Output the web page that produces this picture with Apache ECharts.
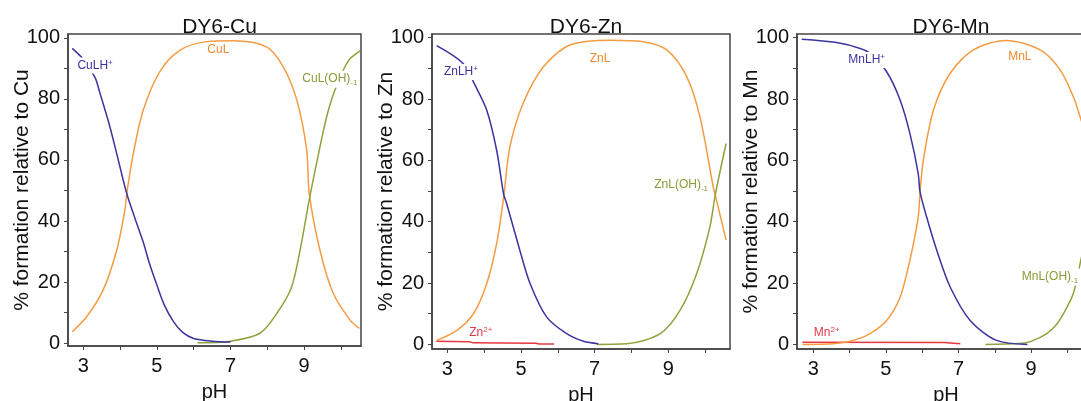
<!DOCTYPE html>
<html>
<head lang="en">
    <meta charset="UTF-8">
    <title>DY6 speciation</title>
    <style>
        html, body { margin: 0; padding: 0; background: #fff; }
    </style>
</head>
<body>
<div id="chart" style="width: 1081px;height: 401px;"></div>
<script src="https://cdn.jsdelivr.net/npm/echarts/dist/echarts.min.js"></script>
<script>
// ---- data (pH, % formation) ----
// DY6-Cu
var cuLH_pH   = [2.7, 3.0, 3.32, 3.45, 3.72, 3.95, 4.18, 4.4, 4.63, 4.8, 5.0, 5.2, 5.45, 5.7, 6.0, 6.5, 7.0];
var cuLH_pct  = [96.6, 93, 87, 82, 71, 60, 49, 41, 33, 26, 19, 12.5, 7, 3.5, 1.5, 0.6, 0.3];
var cuL_pH    = [2.7, 3.09, 3.54, 3.91, 4.13, 4.18, 4.36, 4.63, 5.08, 5.63, 6.35, 7.07, 7.98, 8.43, 8.8, 9.07, 9.14, 9.43, 9.79, 10.25, 10.5];
var cuL_pct   = [3.7, 8.6, 17.4, 30.5, 43.6, 49, 62.2, 76.4, 89, 96, 98.8, 99.1, 97.1, 90.6, 79.7, 63.3, 49, 30.5, 16.3, 7.5, 4.8];
var cuOH_pH   = [6.1, 7.0, 7.8, 8.26, 8.65, 8.9, 9.14, 9.34, 9.61, 9.84, 10.2, 10.52];
var cuOH_pct  = [0.1, 0.6, 3.2, 9.7, 18, 31, 47, 59, 74, 83, 92.5, 95.8];
// DY6-Zn
var znLH_pH   = [2.71, 3.43, 3.75, 4.07, 4.34, 4.53, 4.61, 4.97, 5.25, 5.7, 6.24, 6.7, 7.1];
var znLH_pct  = [97.4, 91.6, 84.6, 76.4, 63.3, 49, 46, 30.7, 19.8, 8.9, 3.5, 1, 0.2];
var znL_pH    = [2.71, 3.26, 3.71, 4.07, 4.34, 4.53, 4.7, 5.06, 5.61, 6.33, 7.42, 8.32, 8.96, 9.5, 9.86, 10.22, 10.28, 10.57];
var znL_pct   = [1.3, 4.6, 10, 19.8, 32.9, 48, 64.4, 78.6, 90.5, 97.6, 99.2, 98.7, 96, 87.3, 74.2, 51.4, 48.5, 34];
var znOH_pH   = [7.06, 7.87, 8.78, 9.32, 9.77, 10.13, 10.28, 10.57];
var znOH_pct  = [0, 0.2, 3.5, 11.1, 23, 38.3, 49, 65.5];
var zn2_pH    = [2.7, 3.6, 3.7, 5.4, 5.5, 5.9];
var zn2_pct   = [1.0, 0.9, 0.5, 0.4, 0.1, 0.1];
// DY6-Mn
var mnLH_pH   = [2.68, 3.64, 4.29, 4.56, 5.02, 5.39, 5.66, 5.89, 5.94, 6.12, 6.4, 6.77, 7.32, 8.05, 8.9];
var mnLH_pct  = [99.5, 98.4, 96.5, 94.9, 88.9, 79.7, 68.8, 55.7, 49.7, 41.6, 30.7, 18.7, 7.8, 1.3, 0];
var mnL_pH    = [2.7, 3.55, 4.1, 4.56, 5.02, 5.39, 5.66, 5.89, 5.94, 6.03, 6.31, 6.77, 7.41, 8.3, 9.25, 9.8, 10.16, 10.35, 10.6];
var mnL_pct   = [0, 0.2, 1.3, 3.5, 7.8, 15.4, 27.4, 41.6, 49.7, 60, 76.4, 88.4, 96, 99.1, 96, 89.5, 80.8, 74.2, 64];
var mnOH_pH   = [7.74, 8.69, 9.0, 9.43, 9.7, 9.89, 10.16, 10.38, 10.6];
var mnOH_pct  = [0, 0.3, 1, 3.5, 6.5, 10, 16.5, 28, 40];
var mn2_pH    = [2.7, 6.6, 6.65, 7.05];
var mn2_pct   = [0.7, 0.6, 0.2, 0.2];

var titles      = ['DY6-Cu', 'DY6-Zn', 'DY6-Mn'];
var yNames      = ['% formation relative to Cu', '% formation relative to Zn', '% formation relative to Mn'];
var xLabelVals  = [3, 5, 7, 9];
var xTickVals   = [3, 4, 5, 6, 7, 8, 9, 10];
var yLabelVals  = [0, 20, 40, 60, 80, 100];
var yTickVals   = [0, 10, 20, 30, 40, 50, 60, 70, 80, 90, 100];

var FONT = '"Liberation Sans", Arial, sans-serif';
var BLUE = '#3a349e', ORANGE = '#f59c42', GREEN = '#8ea33c', RED = '#e8383f';
var AXIS = '#444';

function zip(xs, ys) {
    return xs.map(function (x, i) { return [x, ys[i]]; });
}

// label placed on the curve (white box cuts the line like in the original)
function tag(coord, text, color, cut) {
    return {
        symbol: 'none',
        silent: true,
        animation: false,
        data: [{ coord: coord, symbol: 'rect', symbolSize: 0 }],
        label: {
            show: true,
            position: 'inside',
            formatter: text,
            color: color,
            fontSize: 12,
            fontFamily: FONT,
            backgroundColor: cut ? '#fff' : 'transparent',
            padding: [1, 2],
            rich: {
                sup: { fontSize: 8, color: color, fontFamily: FONT, padding: [0, 0, 6, 0] },
                sub: { fontSize: 8, color: color, fontFamily: FONT, padding: [7, 0, 0, 0] }
            }
        }
    };
}

function line(idx, pts, color, mark, smooth) {
    return {
        type: 'line',
        xAxisIndex: idx,
        yAxisIndex: idx,
        data: pts,
        symbol: 'none',
        smooth: smooth === undefined ? 0.3 : smooth,
        lineStyle: { color: color, width: 1.5 },
        animation: false,
        markPoint: mark
    };
}

// grid boxes in px (the Mn box runs past the right edge, as in the original)
var grids = [
    { left: 68,  top: 34, width: 293, height: 312 },
    { left: 432, top: 34, width: 298, height: 315 },
    { left: 797, top: 34, width: 298, height: 315 }
];
var xRange = [[2.584, 10.546], [2.585, 10.676], [2.55, 10.76]];
var yRange = [[-0.98, 101.3], [-1.5, 101.2], [-1.5, 101.2]];

var option = {
    backgroundColor: '#fff',
    title: grids.map(function (g, i) {
        return {
            text: titles[i],
            left: g.left + g.width / 2,
            top: 12,
            textAlign: 'center',
            textStyle: { fontSize: 21, fontWeight: 'normal', color: '#111', fontFamily: FONT }
        };
    }),
    grid: grids.map(function (g) {
        return {
            left: g.left, top: g.top, width: g.width, height: g.height,
            outerBoundsMode: 'none',
            containLabel: false,
            show: true, borderColor: AXIS, borderWidth: 1.5, backgroundColor: 'transparent'
        };
    }),
    xAxis: grids.map(function (g, i) {
        return {
            gridIndex: i,
            type: 'value',
            min: xRange[i][0],
            max: xRange[i][1],
            name: 'pH',
            nameLocation: 'middle',
            nameGap: 36,
            nameMoveOverlap: false,
            nameTextStyle: { fontSize: 20, color: '#111', fontFamily: FONT },
            axisLine: { show: true, onZero: false, lineStyle: { color: AXIS, width: 1.5 } },
            axisTick: { show: true, length: 4, customValues: xTickVals, lineStyle: { color: AXIS } },
            axisLabel: { customValues: xLabelVals, fontSize: 20, color: '#111', fontFamily: FONT, margin: 10 },
            splitLine: { show: false }
        };
    }),
    yAxis: grids.map(function (g, i) {
        return {
            gridIndex: i,
            type: 'value',
            min: yRange[i][0],
            max: yRange[i][1],
            name: yNames[i],
            nameLocation: 'middle',
            nameGap: 35,
            nameMoveOverlap: false,
            nameTextStyle: { fontSize: 21, color: '#111', fontFamily: FONT },
            axisLine: { show: true, onZero: false, lineStyle: { color: AXIS, width: 1.5 } },
            axisTick: { show: true, length: 4, customValues: yTickVals, lineStyle: { color: AXIS } },
            axisLabel: { customValues: yLabelVals, fontSize: 20, color: '#111', fontFamily: FONT, margin: 8 },
            splitLine: { show: false }
        };
    }),
    series: [
        // Cu
        line(0, zip(cuL_pH, cuL_pct), ORANGE, tag([6.67, 96], 'CuL', '#f08a30', false)),
        line(0, zip(cuOH_pH, cuOH_pct), GREEN, tag([9.7, 86.5], 'CuL(OH){sub|-1}', '#8a9a3a', true)),
        line(0, zip(cuLH_pH, cuLH_pct), BLUE, tag([3.32, 91], 'CuLH{sup|+}', BLUE, true)),
        // Zn
        line(1, zip(zn2_pH, zn2_pct), RED, tag([3.91, 3.8], 'Zn{sup|2+}', '#e03a48', false), false),
        line(1, zip(znL_pH, znL_pct), ORANGE, tag([7.15, 93.3], 'ZnL', '#f08a30', false)),
        line(1, zip(znOH_pH, znOH_pct), GREEN, tag([9.35, 52], 'ZnL(OH){sub|-1}', '#8a9a3a', false)),
        line(1, zip(znLH_pH, znLH_pct), BLUE, tag([3.37, 88.8], 'ZnLH{sup|+}', BLUE, true)),
        // Mn
        line(2, zip(mn2_pH, mn2_pct), RED, tag([3.37, 3.8], 'Mn{sup|2+}', '#e03a48', false), false),
        line(2, zip(mnL_pH, mnL_pct), ORANGE, tag([8.69, 93.8], 'MnL', '#f08a30', false)),
        line(2, zip(mnOH_pH, mnOH_pct), GREEN, tag([9.52, 22], 'MnL(OH){sub|-1}', '#8a9a3a', true)),
        line(2, zip(mnLH_pH, mnLH_pct), BLUE, tag([4.47, 92.7], 'MnLH{sup|+}', BLUE, true))
    ]
};

var myChart = echarts.init(document.getElementById('chart'));
myChart.setOption(option);
</script>
</body>
</html>
